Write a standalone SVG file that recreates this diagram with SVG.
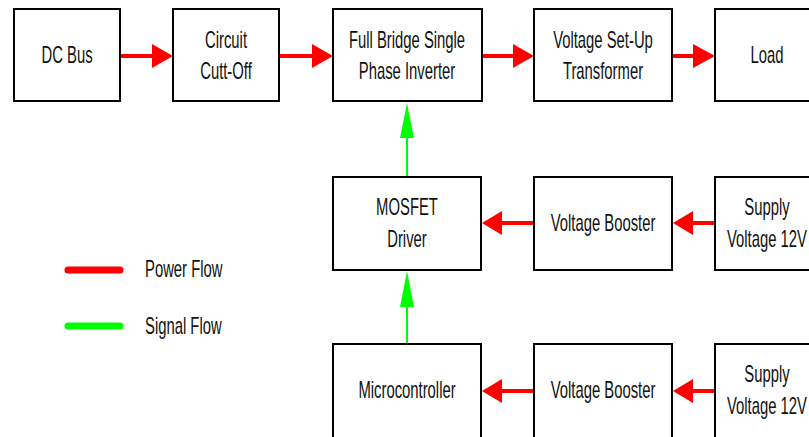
<svg xmlns="http://www.w3.org/2000/svg" width="809" height="437" viewBox="0 0 809 437">
<style>
.box{fill:#fff;stroke:#000;stroke-width:2}
.t{font-family:"Liberation Sans",Arial,sans-serif;font-size:23px;fill:#111;text-anchor:middle}
.tl{font-family:"Liberation Sans",Arial,sans-serif;font-size:23px;fill:#111}
.pw{stroke:#ff0000;stroke-width:4;fill:none}
.sg{stroke:#00ff00;stroke-width:2;fill:none}
.ph{fill:#ff0000}
.sh{fill:#00ff00}
</style>
<rect width="809" height="437" fill="#fff"/>
<g id="connectors">
<line class="pw" x1="121" y1="56" x2="155" y2="56"/><polygon class="ph" points="152,44 173,56 152,68"/>
<line class="pw" x1="280" y1="56" x2="314" y2="56"/><polygon class="ph" points="312,44 333,56 312,68"/>
<line class="pw" x1="483" y1="56" x2="515" y2="56"/><polygon class="ph" points="513,44 534,56 513,68"/>
<line class="pw" x1="673" y1="56" x2="695" y2="56"/><polygon class="ph" points="693,44 715,56 693,68"/>
<line class="pw" x1="714" y1="223" x2="691" y2="223"/><polygon class="ph" points="693,211 673,223 693,235"/>
<line class="pw" x1="533" y1="223" x2="500" y2="223"/><polygon class="ph" points="502,211 482,223 502,235"/>
<line class="pw" x1="714" y1="391" x2="691" y2="391"/><polygon class="ph" points="693,379 673,391 693,403"/>
<line class="pw" x1="533" y1="391" x2="500" y2="391"/><polygon class="ph" points="502,379 482,391 502,403"/>
<line class="sg" x1="407" y1="177" x2="407" y2="136"/><polygon class="sh" points="400,138 407,103 414,138"/>
<line class="sg" x1="407" y1="344" x2="407" y2="305"/><polygon class="sh" points="400,307 407,271 414,307"/>
</g>
<g id="dcbus"><rect class="box" x="14" y="9" width="106" height="92"/><text class="t" transform="translate(67,63) scale(0.645,1)">DC Bus</text></g>
<g id="cutoff"><rect class="box" x="173" y="9" width="106" height="92"/><text class="t" transform="translate(226,48) scale(0.645,1)">Circuit</text><text class="t" transform="translate(226,79) scale(0.645,1)">Cutt-Off</text></g>
<g id="inverter"><rect class="box" x="333" y="9" width="149" height="92"/><text class="t" transform="translate(407,48) scale(0.645,1)">Full Bridge Single</text><text class="t" transform="translate(407,79) scale(0.645,1)">Phase Inverter</text></g>
<g id="transformer"><rect class="box" x="534" y="9" width="138" height="92"/><text class="t" transform="translate(603,48) scale(0.645,1)">Voltage Set-Up</text><text class="t" transform="translate(603,79) scale(0.645,1)">Transformer</text></g>
<g id="load"><rect class="box" x="715" y="9" width="110" height="92"/><text class="t" transform="translate(767,63) scale(0.645,1)">Load</text></g>
<g id="driver"><rect class="box" x="333" y="177" width="148" height="93"/><text class="t" transform="translate(407,215) scale(0.645,1)">MOSFET</text><text class="t" transform="translate(407,247) scale(0.645,1)">Driver</text></g>
<g id="booster1"><rect class="box" x="534" y="177" width="138" height="93"/><text class="t" transform="translate(603,231) scale(0.645,1)">Voltage Booster</text></g>
<g id="supply1"><rect class="box" x="715" y="177" width="110" height="93"/><text class="t" transform="translate(767,215) scale(0.645,1)">Supply</text><text class="t" transform="translate(767,247) scale(0.645,1)">Voltage 12V</text></g>
<g id="mcu"><rect class="box" x="333" y="344" width="148" height="100"/><text class="t" transform="translate(407,398) scale(0.645,1)">Microcontroller</text></g>
<g id="booster2"><rect class="box" x="534" y="344" width="138" height="100"/><text class="t" transform="translate(603,398) scale(0.645,1)">Voltage Booster</text></g>
<g id="supply2"><rect class="box" x="715" y="344" width="110" height="100"/><text class="t" transform="translate(767,382) scale(0.645,1)">Supply</text><text class="t" transform="translate(767,414) scale(0.645,1)">Voltage 12V</text></g>
<g id="legend">
<line x1="68" y1="270" x2="120" y2="270" stroke="#ff0000" stroke-width="7" stroke-linecap="round"/>
<line x1="68" y1="326" x2="120" y2="326" stroke="#00ff00" stroke-width="7" stroke-linecap="round"/>
<text class="tl" transform="translate(145,277) scale(0.645,1)">Power Flow</text>
<text class="tl" transform="translate(145,334) scale(0.645,1)">Signal Flow</text>
</g>
</svg>
